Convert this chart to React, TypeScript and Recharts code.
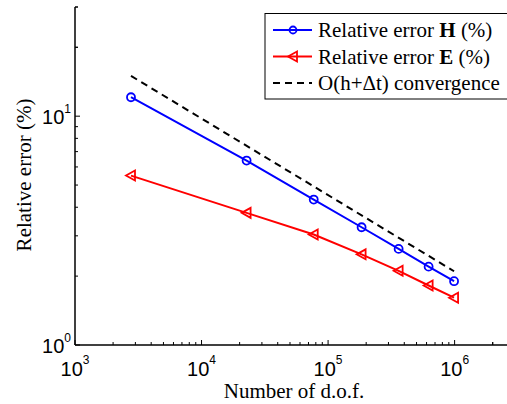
import { LineChart, Line, XAxis, YAxis, Customized } from 'recharts';

// number of degrees of freedom per mesh
const dof = [2770, 22700, 77000, 184000, 361000, 623000, 990000];
// relative errors in percent
const errorH = [12.1, 6.4, 4.32, 3.27, 2.63, 2.2, 1.9];
const errorE = [5.5, 3.78, 3.04, 2.49, 2.11, 1.82, 1.61];
// reference slope O(h + dt), only its end points
const convergence = [15, null, null, null, null, null, 2.1];

const xDecades = [1e3, 1e4, 1e5, 1e6];
const yDecades = [1, 10];
const minorSteps = [1, 2, 3, 4, 5, 6, 7, 8, 9];

const xTicks = [...xDecades.flatMap((d) => minorSteps.map((m) => d * m)), 2e6, 3e6];
const yTicks = [...yDecades.flatMap((d) => minorSteps.map((m) => d * m)), 20, 30];

const legendItems = [
  { key: 'H', color: '#0000ff', marker: 'circle', label: 'H' },
  { key: 'E', color: '#ff0000', marker: 'triangle', label: 'E' },
  { key: 'conv', color: '#000000', marker: 'none', label: '' },
];

const chartData = dof.map((n, i) => ({
  dof: n,
  H: errorH[i],
  E: errorE[i],
  conv: convergence[i],
}));

const tickFont = '"Liberation Sans", Arial, Helvetica, sans-serif';
const textFont = '"Liberation Serif", "Times New Roman", Times, serif';

const isDecade = (v: number) => Math.abs(Math.log10(v) - Math.round(Math.log10(v))) < 1e-9;

function BottomTick({ x, y, payload }: any) {
  const v = payload.value;
  const major = isDecade(v);
  return (
    <g>
      <line x1={x} x2={x} y1={y} y2={y - (major ? 5 : 3)} stroke="#000" />
      {major && (
        <text x={x} y={y + 31} textAnchor="middle" fontFamily={tickFont} fontSize={20} fill="#000">
          10
          <tspan dy={-12} fontSize={12}>{Math.round(Math.log10(v))}</tspan>
        </text>
      )}
    </g>
  );
}

function TopTick({ x, y, payload }: any) {
  const major = isDecade(payload.value);
  return <line x1={x} x2={x} y1={y} y2={y + (major ? 5 : 3)} stroke="#000" />;
}

function LeftTick({ x, y, payload }: any) {
  const v = payload.value;
  const major = isDecade(v);
  return (
    <g>
      <line x1={x} x2={x + (major ? 5 : 3)} y1={y} y2={y} stroke="#000" />
      {major && (
        <text x={x - 4} y={y + 8} textAnchor="end" fontFamily={tickFont} fontSize={20} fill="#000">
          10
          <tspan dy={-11} fontSize={12}>{Math.round(Math.log10(v))}</tspan>
        </text>
      )}
    </g>
  );
}

function CircleDot({ cx, cy }: any) {
  if (cx == null || cy == null) return null;
  return <circle cx={cx} cy={cy} r={4} fill="none" stroke="#0000ff" strokeWidth={1.8} />;
}

function TriangleDot({ cx, cy }: any) {
  if (cx == null || cy == null) return null;
  return (
    <path
      d={`M${cx - 5},${cy} L${cx + 4},${cy - 5} L${cx + 4},${cy + 5} Z`}
      fill="none"
      stroke="#ff0000"
      strokeWidth={1.8}
    />
  );
}

// legend drawn straight in the svg so it takes no room from the plot
function LegendBox() {
  const left = 265;
  const top = 13.5;
  const rowH = 26.5;
  return (
    <g>
      <rect x={left} y={top} width={262} height={85.5} fill="#fff" stroke="#000" strokeWidth={1} />
      {legendItems.map((item, i) => {
        const cy = top + 16.5 + i * rowH;
        return (
          <g key={item.key}>
            <line
              x1={left + 8}
              x2={left + 47}
              y1={cy}
              y2={cy}
              stroke={item.color}
              strokeWidth={2}
              strokeDasharray={item.marker === 'none' ? '7 5' : undefined}
            />
            {item.marker === 'circle' && (
              <circle cx={left + 28} cy={cy} r={3.5} fill="none" stroke={item.color} strokeWidth={1.8} />
            )}
            {item.marker === 'triangle' && (
              <path
                d={`M${left + 23},${cy} L${left + 32},${cy - 5} L${left + 32},${cy + 5} Z`}
                fill="none"
                stroke={item.color}
                strokeWidth={1.8}
              />
            )}
            <text x={left + 53} y={cy + 7} fontFamily={textFont} fontSize={21} fill="#000">
              {item.marker === 'none' ? (
                'O(h+\u0394t) convergence'
              ) : (
                <>
                  Relative error <tspan fontWeight="bold">{item.label}</tspan> (%)
                </>
              )}
            </text>
          </g>
        );
      })}
    </g>
  );
}

function AxisTitles() {
  return (
    <g fontFamily={textFont} fontSize={21} fill="#000">
      <text x={294} y={398} textAnchor="middle">
        Number of d.o.f.
      </text>
      <text x={31} y={175} textAnchor="middle" transform="rotate(-90 31 175)">
        Relative error (%)
      </text>
    </g>
  );
}

export default function App() {
  return (
    <div
      style={{
        position: 'fixed',
        left: 0,
        top: 0,
        width: 507,
        height: 404,
        overflow: 'hidden',
        background: '#fff',
      }}
    >
      <LineChart width={560} height={404} data={chartData} margin={{ top: 7, right: 45, left: 0, bottom: 0 }}>
        <XAxis
          dataKey="dof"
          type="number"
          scale="log"
          domain={[1000, 3000000]}
          allowDataOverflow
          ticks={xTicks}
          interval={0}
          height={59}
          tickSize={0}
          tickMargin={0}
          tickLine={false}
          axisLine={{ stroke: '#000', strokeWidth: 1.5 }}
          tick={<BottomTick />}
        />
        <XAxis
          xAxisId="top"
          orientation="top"
          dataKey="dof"
          type="number"
          scale="log"
          domain={[1000, 3000000]}
          allowDataOverflow
          ticks={xTicks}
          interval={0}
          height={0}
          tickSize={0}
          tickMargin={0}
          tickLine={false}
          axisLine={{ stroke: '#000', strokeWidth: 1.5 }}
          tick={<TopTick />}
        />
        <YAxis
          type="number"
          scale="log"
          domain={[1, 30]}
          allowDataOverflow
          ticks={yTicks}
          interval={0}
          width={75}
          tickSize={0}
          tickMargin={0}
          tickLine={false}
          axisLine={{ stroke: '#000', strokeWidth: 1.5 }}
          tick={<LeftTick />}
        />
        <Line
          dataKey="conv"
          stroke="#000"
          strokeWidth={2}
          strokeDasharray="7 5"
          dot={false}
          connectNulls
          isAnimationActive={false}
        />
        <Line dataKey="E" stroke="#ff0000" strokeWidth={2} dot={<TriangleDot />} isAnimationActive={false} />
        <Line dataKey="H" stroke="#0000ff" strokeWidth={2} dot={<CircleDot />} isAnimationActive={false} />
        <Customized component={<LegendBox />} />
        <Customized component={<AxisTitles />} />
      </LineChart>
    </div>
  );
}
